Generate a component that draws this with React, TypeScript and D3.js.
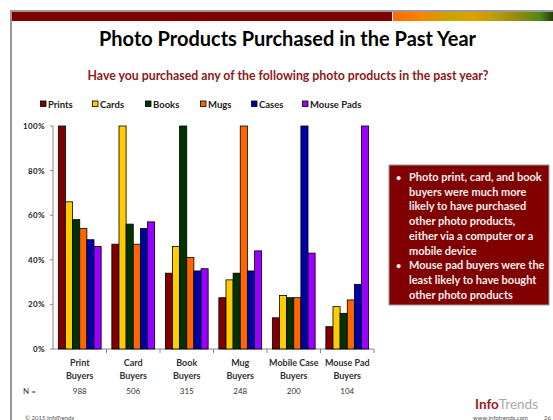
import React from "react";
import * as d3 from "d3";

const categories = ["Print|Buyers", "Card|Buyers", "Book|Buyers", "Mug|Buyers", "Mobile Case|Buyers", "Mouse Pad|Buyers"];
const nValues = ["988", "506", "315", "248", "200", "104"];
const seriesNames = ["Prints", "Cards", "Books", "Mugs", "Cases", "Mouse Pads"];
const seriesColors = ["#800000", "#FFCC00", "#003300", "#FF6600", "#0000A8", "#9900FF"];
const prints = [100, 47, 34, 23, 14, 10];
const cards = [66, 100, 46, 31, 24, 19];
const books = [58, 56, 100, 34, 23, 16];
const mugs = [54, 47, 41, 100, 23, 22];
const cases = [49, 54, 35, 35, 100, 29];
const mousePads = [46, 57, 36, 44, 43, 100];
const seriesValues = [prints, cards, books, mugs, cases, mousePads];
const yTicks = [0, 20, 40, 60, 80, 100];
const title = "Photo Products Purchased in the Past Year";
const subtitle = "Have you purchased any of the following photo products in the past year?";
const bullets = [
  ["Photo print, card, and book", "buyers were much more", "likely to have purchased", "other photo products,", "either via a computer or a", "mobile device"],
  ["Mouse pad buyers were the", "least likely to have bought", "other photo products"],
];

const W = 553;
const H = 420;
const FONT = "Lato, 'Open Sans', sans-serif";

export default function App() {
  const x = d3.scaleBand<string>().domain(categories).range([53, 374]).paddingInner(0.2).paddingOuter(0.1);
  const xs = d3.scaleBand<string>().domain(seriesNames).range([0, x.bandwidth()]);
  const y = d3.scaleLinear().domain([0, 100]).range([349, 126]);
  const legendX = [40, 92, 145, 200, 251, 302];
  const step = x.step();

  let lineIdx = 0;
  const boxLines: { text: string; bullet: boolean; i: number }[] = [];
  bullets.forEach((b) => b.forEach((t, j) => boxLines.push({ text: t, bullet: j === 0, i: lineIdx++ })));

  return (
    <svg width={W} height={H} style={{ position: "absolute", left: 0, top: 0, background: "#fff" }} fontFamily={FONT}>
      <defs>
        <linearGradient id="hdr" x1="0" x2="1" y1="0" y2="0">
          <stop offset="0" stopColor="#ff6a00" />
          <stop offset="0.2" stopColor="#f08a00" />
          <stop offset="0.35" stopColor="#c9a400" />
          <stop offset="0.5" stopColor="#e0a000" />
          <stop offset="0.65" stopColor="#b89c10" />
          <stop offset="0.8" stopColor="#8a8a10" />
          <stop offset="0.92" stopColor="#4a8a10" />
          <stop offset="1" stopColor="#2a3a10" />
        </linearGradient>
      </defs>
      <rect x={0} y={0} width={W} height={H} fill="#fff" />
      {/* frame */}
      <rect x={10} y={10} width={2} height={H - 10} fill="#9a9a9a" />
      <rect x={10} y={10} width={W - 10} height={2} fill="#9a9a9a" />
      <rect x={12} y={12} width={380} height={9} fill="#800000" />
      <rect x={393} y={12} width={W - 393} height={9} fill="url(#hdr)" />

      <text x={287.5} y={45.7} textAnchor="middle" fontSize={20} fontWeight="bold" fill="#000" textLength={377} lengthAdjust="spacingAndGlyphs">{title}</text>
      <text x={288} y={80} textAnchor="middle" fontSize={13} fontWeight="bold" fill="#8B1A1A" textLength={401} lengthAdjust="spacingAndGlyphs">{subtitle}</text>

      {/* legend */}
      {seriesNames.map((s, i) => (
        <g key={s}>
          <rect x={legendX[i] + 0.5} y={101} width={5.5} height={5.5} fill={seriesColors[i]} stroke="#000" strokeWidth={0.8} />
          <text x={legendX[i] + 8} y={107.5} fontSize={9.5} fontWeight="bold" fill="#222">{s}</text>
        </g>
      ))}

      {/* y axis */}
      <line x1={53} x2={53} y1={y(100)} y2={y(0)} stroke="#888" strokeWidth={1} />
      {yTicks.map((t) => (
        <g key={t}>
          <line x1={50} x2={53} y1={y(t)} y2={y(t)} stroke="#888" />
          <text x={45} y={y(t) + 3} textAnchor="end" fontSize={8} fontWeight="bold" fill="#222" letterSpacing={0.4}>{t}%</text>
        </g>
      ))}
      {/* x axis */}
      <line x1={53} x2={374} y1={y(0)} y2={y(0)} stroke="#888" strokeWidth={1} />
      {categories.map((c, i) => (
        <line key={c} x1={53 + step * (i + 1)} x2={53 + step * (i + 1)} y1={y(0)} y2={y(0) + 4} stroke="#888" />
      ))}

      {/* bars */}
      {categories.map((c, ci) => (
        <g key={c} transform={`translate(${x(c)},0)`}>
          {seriesNames.map((s, si) => (
            <rect key={s} x={xs(s)} y={y(seriesValues[si][ci])} width={xs.bandwidth()} height={y(0) - y(seriesValues[si][ci])}
              fill={seriesColors[si]} stroke="#000" strokeWidth={0.8} />
          ))}
        </g>
      ))}

      {/* category labels */}
      {categories.map((c, i) => {
        const cx = (x(c) as number) + x.bandwidth() / 2;
        const [a, b] = c.split("|");
        return (
          <g key={c} fontSize={9} fontWeight="bold" fill="#333" textAnchor="middle">
            <text x={cx} y={365.5}>{a}</text>
            <text x={cx} y={378.5}>{b}</text>
            <text x={cx} y={394} fontWeight="normal" fontSize={8}>{nValues[i]}</text>
          </g>
        );
      })}
      <text x={23} y={394} fontSize={8} fill="#333">N =</text>

      {/* text box */}
      <rect x={389} y={165} width={160} height={140} fill="#800000" stroke="#9a9a9a" strokeWidth={1} />
      {boxLines.map((l) => (
        <g key={l.i} fill="#f6eeee" fontSize={11} fontWeight="bold">
          {l.bullet && <text x={396} y={181 + l.i * 14.7} fontSize={9}>•</text>}
          <text x={409} y={181 + l.i * 14.7}>{l.text}</text>
        </g>
      ))}

      {/* footer */}
      <text x={25} y={420} fontSize={6} fill="#555">© 2015 InfoTrends</text>
      <text x={475} y={408.5} fontSize={13.5} fontWeight="bold">
        <tspan fill="#9b1b1b">Info</tspan>
        <tspan fill="#aaa" fontWeight="normal">Trends</tspan>
      </text>
      <text x={473} y={419.5} fontSize={6} fill="#555">www.infotrends.com</text>
      <text x={544} y={419.5} fontSize={6} fill="#555">26</text>
    </svg>
  );
}
